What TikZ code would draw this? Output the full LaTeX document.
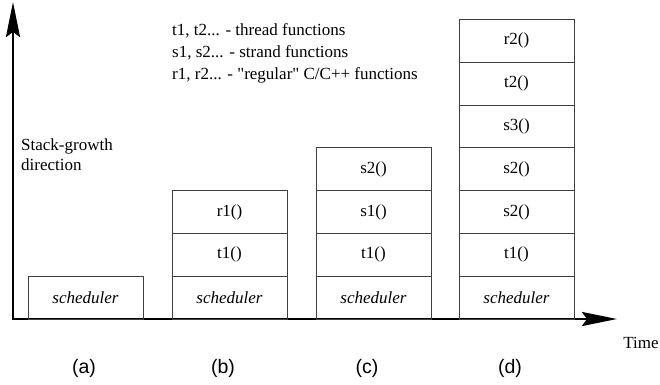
\documentclass[tikz,border=0pt]{standalone}
\usepackage{fontspec}
\setmainfont{Liberation Serif}[Ligatures=TeXOff]
\newfontfamily\arialf{Liberation Sans}
\usetikzlibrary{arrows.meta,positioning}
\begin{document}
\begin{tikzpicture}[x=1pt,y=-1pt,
  frame/.style={draw=black!75, line width=0.9pt, minimum width=115pt, minimum height=42.8pt, inner sep=0pt, outer sep=0pt, font=\fontsize{17}{20}\selectfont},
  schedbox/.style={frame, font=\fontsize{17}{20}\selectfont\itshape},
  axis/.style={line width=2.6pt, -{Stealth[length=35pt,width=14pt,inset=5pt]}},
  lbl/.style={font=\arialf\fontsize{19.5}{22}\selectfont, inner sep=0pt},
  txt/.style={font=\fontsize{17}{21}\selectfont, inner sep=0pt, align=left}]
\useasboundingbox (0,0) rectangle (660,384);
\fill[white] (0,0) rectangle (660,384);
% axes
\coordinate (o) at (13,320);
\coordinate (ytip) at (13,2);
\coordinate (ostart) at (12,319);
\coordinate (xtip) at (617,319);
\draw[axis] (o) -- (ytip);
\draw[axis] (ostart) -- (xtip);
% (a)
\node[schedbox, anchor=south west] (a0) at (28,319) {scheduler};
% (b)
\node[schedbox, anchor=south west] (b0) at (172,319) {scheduler};
\node[frame, above=0pt of b0] (b1) {t1()};
\node[frame, above=0pt of b1] (b2) {r1()};
% (c)
\node[schedbox, anchor=south west] (c0) at (316,319) {scheduler};
\node[frame, above=0pt of c0] (c1) {t1()};
\node[frame, above=0pt of c1] (c2) {s1()};
\node[frame, above=0pt of c2] (c3) {s2()};
% (d)
\node[schedbox, anchor=south west] (d0) at (459,319) {scheduler};
\node[frame, above=0pt of d0] (d1) {t1()};
\node[frame, above=0pt of d1] (d2) {s2()};
\node[frame, above=0pt of d2] (d3) {s2()};
\node[frame, above=0pt of d3] (d4) {s3()};
\node[frame, above=0pt of d4] (d5) {t2()};
\node[frame, above=0pt of d5] (d6) {r2()};
% texts
\node[txt, anchor=west, font=\fontsize{17}{22}\selectfont] (legend) at (172,53)
  {t1, t2... - thread functions\\s1, s2... - strand functions\\r1, r2... - "regular" C/C++ functions};
\node[txt, anchor=west, font=\fontsize{17}{20}\selectfont] (growth) at (21,155) {Stack-growth\\direction};
\node[txt] (time) at (641,343) {Time};
\node[lbl] (la) at (84,368) {(a)};
\node[lbl] (lb) at (223,368) {(b)};
\node[lbl] (lc) at (367,368) {(c)};
\node[lbl] (ld) at (510,368) {(d)};
\end{tikzpicture}
\end{document}
